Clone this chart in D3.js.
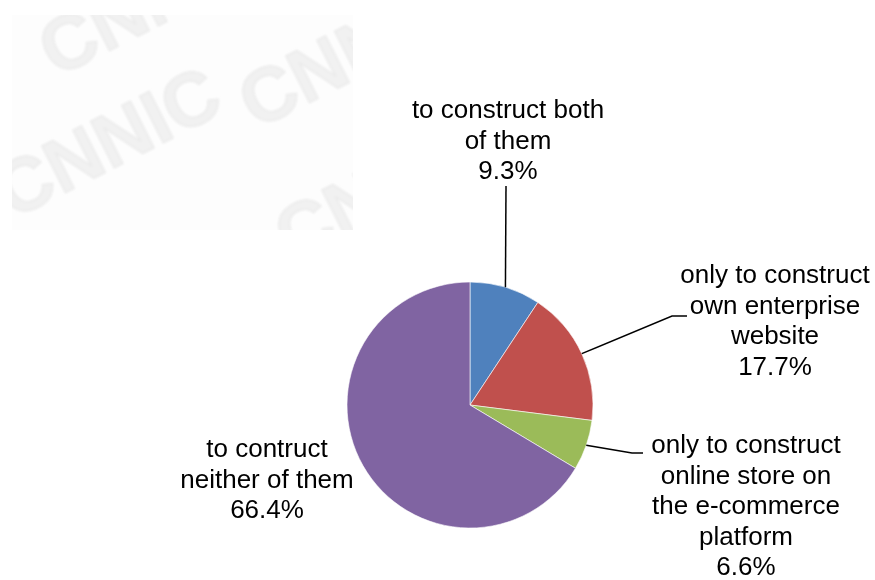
<!DOCTYPE html>
<html>
<head>
<meta charset="utf-8">
<script src="https://cdn.jsdelivr.net/npm/d3@7"></script>
<style>
  html, body { margin: 0; padding: 0; background: #fff; }
  svg { display: block; }
  text { font-family: "Liberation Sans", Arial, sans-serif; }
</style>
</head>
<body>
<svg id="chart" width="875" height="580"></svg>
<script>
// Share of enterprises by type of online presence built
const categories = [
  "to construct both of them",
  "only to construct own enterprise website",
  "only to construct online store on the e-commerce platform",
  "to contruct neither of them"
];
const values = [9.3, 17.7, 6.6, 66.4];
const labelLines = [
  ["to construct both", "of them"],
  ["only to construct", "own enterprise", "website"],
  ["only to construct", "online store on", "the e-commerce", "platform"],
  ["to contruct", "neither of them"]
];
const colors = ["#4F81BD", "#C0504D", "#9BBB59", "#8064A2"];

const W = 875, H = 580;
const cx = 470, cy = 405, R = 123;
const fontSize = 26, lineH = 30.5;

// label block placement: centre x, first baseline y, and leader elbow
const labelLayout = [
  { x: 508, y: 118, elbow: [506, 186], end: null },
  { x: 775, y: 283, elbow: [672, 316], end: [687, 316] },
  { x: 746, y: 453, elbow: [632, 453], end: [643, 453] },
  { x: 267, y: 457, elbow: null, end: null }
];

const svg = d3.select("#chart");

// faint watermark panel
const defs = svg.append("defs");
defs.append("clipPath").attr("id", "wmclip")
  .append("rect").attr("x", 12).attr("y", 15).attr("width", 341).attr("height", 215);
defs.append("filter").attr("id", "soft")
  .append("feGaussianBlur").attr("stdDeviation", 0.8);
const wm = svg.append("g");
wm.append("rect").attr("x", 12).attr("y", 15).attr("width", 341).attr("height", 215)
  .attr("fill", "#fdfdfd");
const wmText = wm.append("g").attr("clip-path", "url(#wmclip)")
  .append("g").attr("filter", "url(#soft)");
[[56, 78], [12, 220], [256, 130], [292, 264]].forEach(([x, y]) => {
  wmText.append("text")
    .attr("transform", `translate(${x},${y}) rotate(-27)`)
    .attr("font-size", 76).attr("font-weight", "bold")
    .attr("fill", "#f1f1f1")
    .attr("stroke", "#e9e9e9").attr("stroke-width", 1.2)
    .text("CNNIC");
});

// pie
const pie = d3.pie().sort(null).value(d => d)
  .startAngle(0).endAngle(2 * Math.PI);
const arcs = pie(values);
const arc = d3.arc().innerRadius(0).outerRadius(R);

const g = svg.append("g").attr("transform", `translate(${cx},${cy})`);
g.selectAll("path.slice").data(arcs).join("path")
  .attr("class", "slice")
  .attr("d", arc)
  .attr("fill", (d, i) => colors[i])
  .attr("stroke", "#fff").attr("stroke-width", 0.6);

// leader lines from slice mid-points on the rim
arcs.forEach((d, i) => {
  const L = labelLayout[i];
  if (!L.elbow) return;
  const a = (d.startAngle + d.endAngle) / 2;
  const px = cx + R * Math.sin(a), py = cy - R * Math.cos(a);
  const pts = [[px, py], L.elbow];
  if (L.end) pts.push(L.end);
  svg.append("path")
    .attr("d", d3.line()(pts))
    .attr("fill", "none").attr("stroke", "#000").attr("stroke-width", 1.5);
});

// data labels
arcs.forEach((d, i) => {
  const L = labelLayout[i];
  const lines = labelLines[i].concat([d3.format(".1f")(values[i]) + "%"]);
  const t = svg.append("text")
    .attr("text-anchor", "middle")
    .attr("font-size", fontSize)
    .attr("fill", "#000");
  lines.forEach((s, k) => {
    t.append("tspan").attr("x", L.x).attr("y", L.y + k * lineH).text(s);
  });
});
</script>
</body>
</html>
